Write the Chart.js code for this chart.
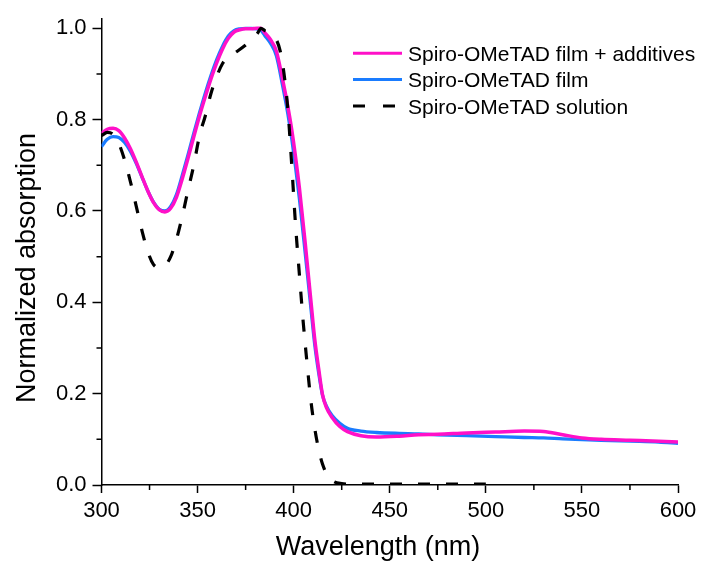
<!DOCTYPE html>
<html>
<head>
<meta charset="utf-8">
<script src="https://cdn.jsdelivr.net/npm/chart.js@4.4.1/dist/chart.umd.min.js"></script>
<style>
  html, body { margin: 0; padding: 0; background: #fff; }
  #wrap { width: 709px; height: 562px; }
</style>
</head>
<body>
<div id="wrap"><canvas id="myChart" width="709" height="562"></canvas></div>
<script>
// wavelength grid shared by both film curves (nm)
const wlFilm = [300, 303, 306, 309, 312, 315, 318, 321, 324, 327, 330, 333, 336, 339, 342, 345, 348, 351, 354, 357,
    360, 363, 366, 369, 372, 375, 378, 381, 383, 385, 388, 391, 394, 397, 399, 401, 403, 406, 409, 411,
    413, 415, 417, 420, 424, 428, 435, 443, 455, 465, 475, 490, 505, 520, 530, 540, 550, 560, 575, 590, 600];

const filmAdditives = [0.770, 0.779, 0.781, 0.776, 0.760, 0.737, 0.708, 0.676, 0.645, 0.619, 0.603, 0.598, 0.606, 0.630, 0.670, 0.715, 0.762, 0.808, 0.850, 0.890,
    0.925, 0.955, 0.978, 0.992, 0.997, 0.999, 0.999, 1.000, 1.000, 0.990, 0.975, 0.950, 0.893, 0.828, 0.778, 0.718, 0.650, 0.530, 0.402, 0.318,
    0.255, 0.198, 0.170, 0.148, 0.128, 0.117, 0.108, 0.105, 0.107, 0.110, 0.111, 0.114, 0.116, 0.118, 0.117, 0.110, 0.103, 0.100, 0.098, 0.096, 0.094];

const filmPlain = [0.741, 0.757, 0.763, 0.761, 0.750, 0.731, 0.705, 0.675, 0.645, 0.620, 0.604, 0.600, 0.610, 0.636, 0.678, 0.723, 0.770, 0.815, 0.858, 0.897,
    0.932, 0.961, 0.983, 0.995, 0.999, 1.000, 1.000, 0.999, 0.995, 0.984, 0.967, 0.940, 0.880, 0.812, 0.758, 0.695, 0.626, 0.508, 0.386, 0.306,
    0.246, 0.197, 0.173, 0.152, 0.135, 0.124, 0.118, 0.115, 0.113, 0.112, 0.110, 0.108, 0.106, 0.104, 0.103, 0.101, 0.0995, 0.098, 0.096, 0.094, 0.091];

// solution spectrum
const wlSol = [300, 303, 306, 309, 312, 315, 318, 321, 324, 327, 330, 333, 336, 339, 342, 345, 348, 351, 354, 357,
    360, 363, 366, 370, 374, 378, 381, 383, 385, 388, 391, 393, 395, 397, 399, 401, 403, 405, 407, 409,
    411, 413, 415, 418, 421, 425, 430, 450, 475, 500];
const solution = [0.765, 0.772, 0.768, 0.748, 0.712, 0.665, 0.612, 0.558, 0.512, 0.483, 0.476, 0.480, 0.500, 0.538, 0.588, 0.645, 0.700, 0.765, 0.808, 0.858,
    0.895, 0.923, 0.937, 0.948, 0.960, 0.975, 0.988, 1.000, 0.995, 0.990, 0.975, 0.950, 0.900, 0.821, 0.700, 0.568, 0.460, 0.355, 0.265, 0.183,
    0.123, 0.078, 0.046, 0.018, 0.007, 0.003, 0.002, 0.002, 0.002, 0.002];

const seriesNames = ['Spiro-OMeTAD film + additives', 'Spiro-OMeTAD film', 'Spiro-OMeTAD solution'];
const seriesColors = ['#ff10c8', '#1a7cff', '#000000'];

const xTicks = [300, 350, 400, 450, 500, 550, 600];
const yTicks = [0.0, 0.2, 0.4, 0.6, 0.8, 1.0];

const FONT = "'Liberation Sans', Arial, sans-serif";

function pts(xs, ys) {
    return xs.map((x, i) => ({ x: x, y: ys[i] }));
}

// minor ticks, axis titles and legend
const extras = {
    id: 'extras',
    afterDraw(chart) {
        const ctx = chart.ctx;
        const xs = chart.scales.x, ys = chart.scales.y;
        const bottom = ys.getPixelForValue(0);
        const left = xs.getPixelForValue(300);
        ctx.save();
        ctx.strokeStyle = '#000';
        ctx.lineWidth = 1.5;
        ctx.beginPath();
        for (let v = 325; v < 600; v += 50) {
            const px = xs.getPixelForValue(v);
            ctx.moveTo(px, bottom);
            ctx.lineTo(px, bottom + 5);
        }
        for (let v = 0.1; v < 1.0; v += 0.2) {
            const py = ys.getPixelForValue(v);
            ctx.moveTo(left, py);
            ctx.lineTo(left - 5, py);
        }
        ctx.stroke();

        // axis titles
        ctx.fillStyle = '#000';
        ctx.font = '27px ' + FONT;
        ctx.textAlign = 'center';
        ctx.textBaseline = 'alphabetic';
        ctx.fillText('Wavelength (nm)', 378, 555);
        ctx.save();
        ctx.translate(35, 268);
        ctx.rotate(-Math.PI / 2);
        ctx.fillText('Normalized absorption', 0, 0);
        ctx.restore();

        // legend
        const rowsY = [53.3, 79.5, 106];
        ctx.font = '21px ' + FONT;
        ctx.textAlign = 'left';
        for (let i = 0; i < seriesNames.length; i++) {
            ctx.beginPath();
            ctx.strokeStyle = seriesColors[i];
            ctx.lineWidth = 3;
            ctx.setLineDash(i === 2 ? [12, 18] : []);
            ctx.moveTo(353, rowsY[i]);
            ctx.lineTo(402, rowsY[i]);
            ctx.stroke();
            ctx.setLineDash([]);
            ctx.fillText(seriesNames[i], 408, rowsY[i] + 7.5);
        }
        ctx.restore();
    }
};

const ctx = document.getElementById('myChart').getContext('2d');
const myChart = new Chart(ctx, {
    type: 'line',
    data: {
        datasets: [{
            label: seriesNames[0],
            data: pts(wlFilm, filmAdditives),
            borderColor: seriesColors[0],
            borderWidth: 3.5,
            order: 1
        }, {
            label: seriesNames[1],
            data: pts(wlFilm, filmPlain),
            borderColor: seriesColors[1],
            borderWidth: 3.3,
            order: 2
        }, {
            label: seriesNames[2],
            data: pts(wlSol, solution),
            borderColor: seriesColors[2],
            borderWidth: 3.2,
            borderDash: [12, 16],
            order: 0
        }]
    },
    options: {
        responsive: false,
        animation: false,
        devicePixelRatio: 1,
        elements: {
            point: { radius: 0 },
            line: { cubicInterpolationMode: 'monotone', fill: false }
        },
        layout: { padding: { left: 0, right: 31, top: 17, bottom: 0 } },
        plugins: {
            legend: { display: false },
            tooltip: { enabled: false }
        },
        scales: {
            x: {
                type: 'linear',
                min: 300,
                max: 600,
                afterFit: function (scale) { scale.height = 77; },
                afterBuildTicks: function (scale) { scale.ticks = xTicks.map(v => ({ value: v })); },
                ticks: {
                    color: '#000',
                    font: { family: FONT, size: 22 },
                    padding: 5,
                    maxRotation: 0,
                    callback: v => String(v)
                },
                grid: { drawOnChartArea: false, drawTicks: true, tickLength: 8, tickColor: '#000', tickWidth: 1.5 },
                border: { color: '#000', width: 1.5 }
            },
            y: {
                type: 'linear',
                min: 0,
                max: 1.02,
                afterFit: function (scale) { scale.width = 101.5; },
                afterBuildTicks: function (scale) { scale.ticks = yTicks.map(v => ({ value: v })); },
                ticks: {
                    color: '#000',
                    font: { family: FONT, size: 22 },
                    padding: 6,
                    callback: v => v.toFixed(1)
                },
                grid: { drawOnChartArea: false, drawTicks: true, tickLength: 9, tickColor: '#000', tickWidth: 1.5 },
                border: { color: '#000', width: 1.5 }
            }
        }
    },
    plugins: [extras]
});
</script>
</body>
</html>
